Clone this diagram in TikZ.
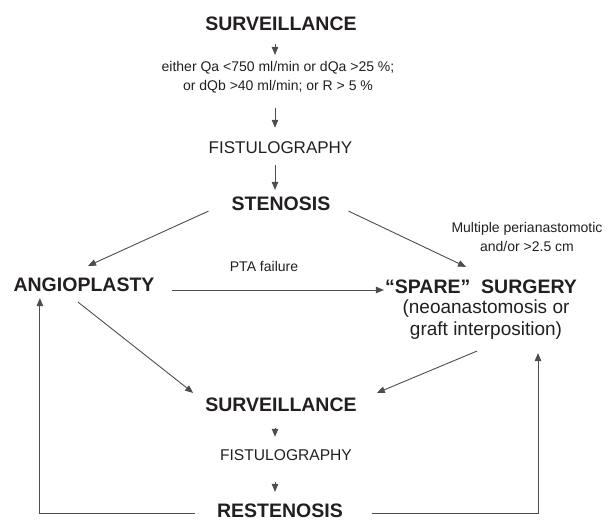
\documentclass[tikz,border=0pt]{standalone}
\usepackage{fontspec}
\setmainfont{Liberation Sans}
\usetikzlibrary{arrows.meta,calc}
\definecolor{txt}{HTML}{231F20}
\definecolor{ln}{HTML}{4D4D4D}
\begin{document}
\begin{tikzpicture}[x=1pt,y=-1pt,
  every node/.style={inner sep=0pt, text=txt, align=center},
  head/.style={font=\bfseries\fontsize{19.5}{22}\selectfont},
  sub/.style={font=\fontsize{19}{21.5}\selectfont},
  fistA/.style={font=\fontsize{17}{20}\selectfont},
  fistB/.style={font=\fontsize{15.6}{18}\selectfont},
  small/.style={font=\fontsize{14}{19}\selectfont},
  conn/.style={draw=ln, line width=0.9pt, -{Triangle[length=8pt,width=6.5pt]}}]
\useasboundingbox (0,0) rectangle (613,521);

\node[head] (s1) at (281,23.5) {SURVEILLANCE};
\node[small] (cond) at (278,77.5) {either Qa <750 ml/min or dQa >25 \%;\\ or dQb >40 ml/min; or R > 5 \%};
\node[fistA] (f1) at (280.5,148) {FISTULOGRAPHY};
\node[head] (st) at (281,203.5) {STENOSIS};
\node[head] (an) at (84,285) {ANGIOPLASTY};
\node[head] (sp) at (481,287) {“SPARE”\ \ SURGERY};
\node[sub] (neo) at (486,309) {(neoanastomosis or};
\node[sub] (gr) at (486,331) {graft interposition)};
\node[small] (pta) at (264,266) {PTA failure};
\node[small] (mul) at (527,237) {Multiple perianastomotic\\and/or >2.5 cm};
\node[head] (s2) at (281,405) {SURVEILLANCE};
\node[fistB] (f2) at (286,455) {FISTULOGRAPHY};
\node[head] (re) at (280,510.5) {RESTENOSIS};

\draw[conn] ($(s1.south)+(-6,13.5)$) -- ($(cond.north)+(-3,-6.5)$);
\draw[conn] ($(cond.south)+(-3,14)$) -- ($(f1.north)+(-5.5,-14)$);
\draw[conn] ($(f1.south)+(-5.5,11)$) -- ($(st.north)+(-6,-6.5)$);
\draw[conn] ($(st.south west)+(-23,0.5)$) -- ($(an.north)+(4,-12)$);
\draw[conn] ($(st.south east)+(18,0.5)$) -- ($(sp.north)+(-15,-13)$);
\draw[conn] ($(an.east)+(17.5,5)$) -- ($(sp.west)+(-1,3)$);
\draw[conn] ($(an.south)+(-6,10)$) -- ($(s2.north west)+(-12,-5)$);
\draw[conn] ($(gr.south)+(-9,11)$) -- ($(s2.north east)+(20,-5)$);
\draw[conn] ($(s2.south)+(-6,16)$) -- ($(f2.north)+(-11,-12.5)$);
\draw[conn] ($(f2.south)+(-11,21.5)$) -- ($(re.north)+(-5,-11.5)$);
\draw[conn] ($(re.west)+(-22,2.5)$) -| ($(an.south west)+(26.5,6)$);
\draw[conn] ($(re.east)+(29,2.5)$) -| ($(gr.south)+(52,13)$);
\end{tikzpicture}
\end{document}
